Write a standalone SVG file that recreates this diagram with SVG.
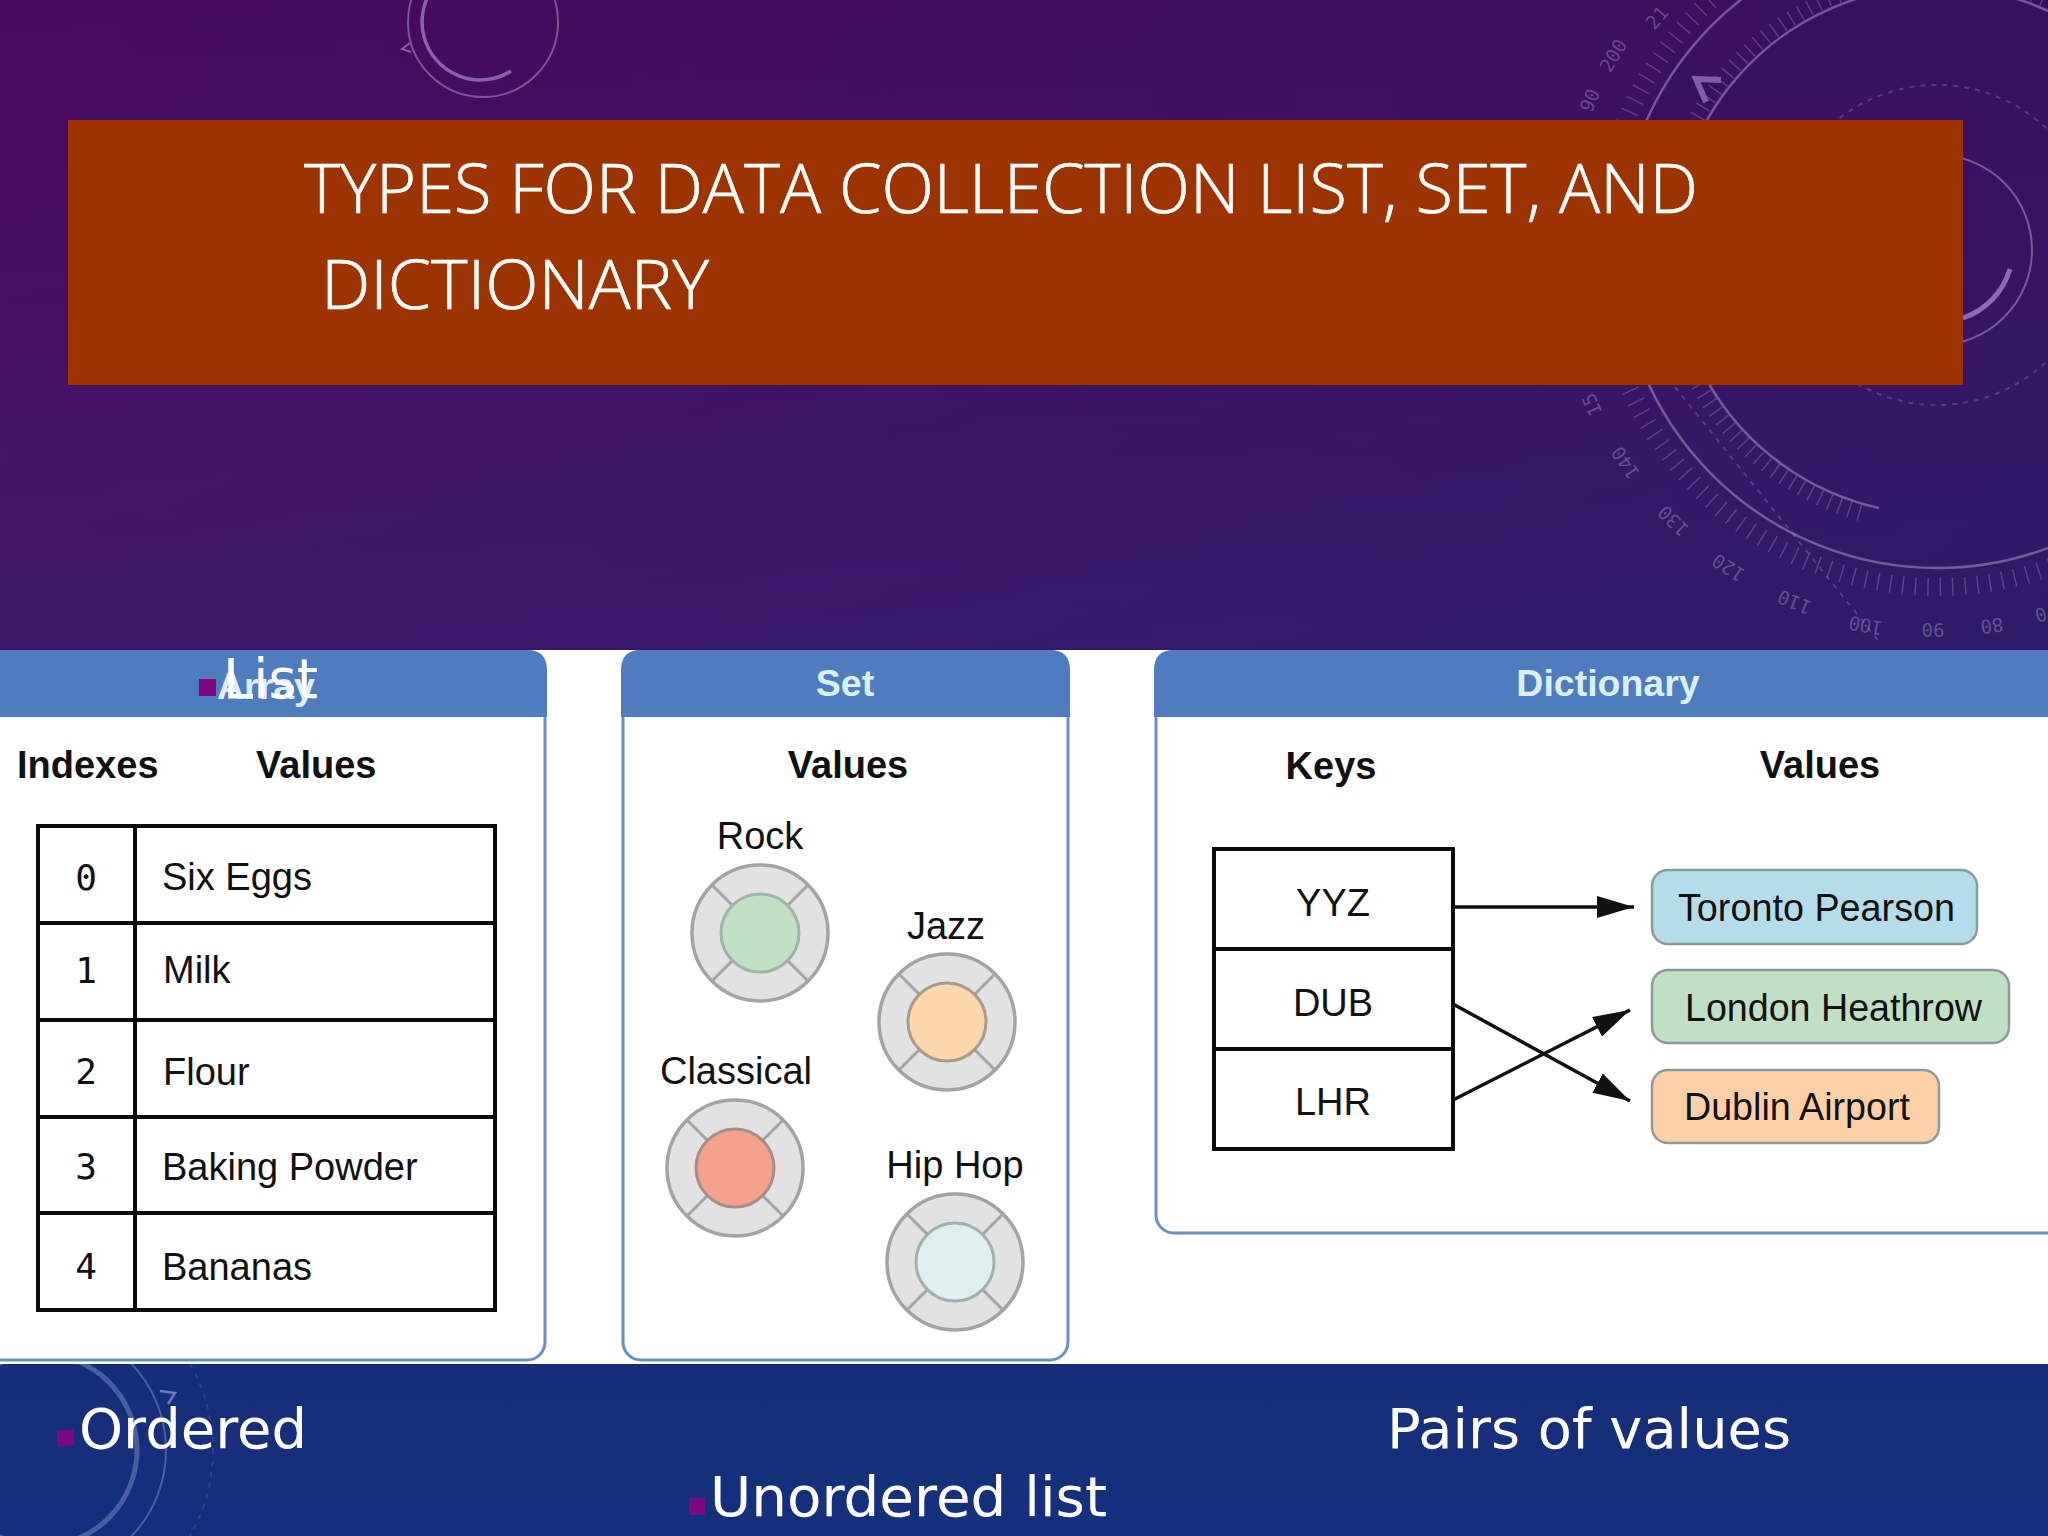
<svg xmlns="http://www.w3.org/2000/svg" width="2048" height="1536" viewBox="0 0 2048 1536">
<defs>
<linearGradient id="bgV" x1="0" y1="0" x2="0" y2="1"><stop offset="0" stop-color="#450a5a"/><stop offset="0.14" stop-color="#470e62"/><stop offset="0.42" stop-color="#3a1a6c"/><stop offset="0.87" stop-color="#172e79"/><stop offset="1" stop-color="#14307c"/></linearGradient>
<linearGradient id="bgH" x1="0" y1="0" x2="1" y2="0"><stop offset="0" stop-color="#4a0f66" stop-opacity="0.25"/><stop offset="1" stop-color="#141f68" stop-opacity="0.3"/></linearGradient>
<marker id="head" markerUnits="userSpaceOnUse" markerWidth="38" markerHeight="22" viewBox="0 0 38 22" refX="37" refY="11" orient="auto"><path d="M0 0 L37 11 L0 22 Z" fill="#111"/></marker>
<g id="dial"><circle cx="0" cy="0" r="68" fill="#e2e2e2" stroke="#a3a3a3" stroke-width="3.5"/><path d="M-47 -47 L-27 -27 M47 -47 L27 -27 M-47 47 L-27 27 M47 47 L27 27" stroke="#a3a3a3" stroke-width="3" fill="none"/></g>
</defs>
<style>
.sans{font-family:"Liberation Sans",Arial,sans-serif;fill:#111}
.b{font-weight:700;font-size:38px}
.r{font-size:38px}
.c{text-anchor:middle}
.h{font-weight:700;font-size:37.5px;fill:#dcf0fa;text-anchor:middle}
.m{font-family:"DejaVu Sans Mono",monospace;font-size:36px;fill:#111;text-anchor:middle}
.w{font-family:"DejaVu Sans",Verdana,sans-serif;font-size:56px;fill:#fff}
.t{font-family:"Open Sans",sans-serif;font-weight:300;font-size:69px;fill:#fff;stroke:#fff;stroke-width:.7}
.pn{fill:#fff;stroke:#6a90bf;stroke-width:3}
.hd{fill:#4e7cbf}
.cell{fill:#fff;stroke:#0a0a0a;stroke-width:4}
.ln{stroke:#0a0a0a;stroke-width:4;fill:none}
.d1{fill:none;stroke:#b59fd0;stroke-width:2.5;stroke-opacity:.5}
.d2{fill:none;stroke:#c3b2da;stroke-width:1.8;stroke-opacity:.28}
.d3{fill:none;stroke:#b59fd0;stroke-width:2;stroke-opacity:.28;stroke-dasharray:5 6}
.n{font-family:"DejaVu Sans Mono",monospace;font-size:19px;fill:#b6a8d4;fill-opacity:.4;text-anchor:middle}
.bl{fill:#7a0a7e}
.arr{stroke:#111;stroke-width:3.5;fill:none;marker-end:url(#head)}
.vb{stroke:#8d9a9a;stroke-width:2.5}
</style>
<rect width="2048" height="1536" fill="url(#bgV)"/>
<rect width="2048" height="650" fill="url(#bgH)"/>
<g id="decor">
<circle class="d1" cx="1937" cy="250" r="318"/>
<circle class="d2" cx="1937" cy="250" r="337" style="stroke-width:18;stroke-dasharray:1.5 11"/>
<path class="d1" d="M1879 508 A264 264 0 1 1 2048 11"/>
<path class="d2" style="stroke-width:16;stroke-dasharray:1.5 9" d="M1860 513 A274 274 0 0 1 1680 345 M1680 155 A274 274 0 0 1 2048 0"/>
<circle class="d3" cx="1937" cy="245" r="160"/>
<path class="d3" d="M1675 387 L1881 644"/>
<circle class="d1" cx="1937" cy="250" r="95" style="stroke-width:2"/>
<path d="M2010 269 A74 74 0 0 1 1963 318" fill="none" stroke="#8b6cb0" stroke-width="5"/>
<polyline points="1721,80 1696,79 1706,102" fill="none" stroke="#7f5fa6" stroke-width="6"/>
<text class="n" transform="translate(1662,22) rotate(-49)">21</text>
<text class="n" transform="translate(1619,59) rotate(-59)">200</text>
<text class="n" transform="translate(1596,103) rotate(-67)">90</text>
<text class="n" transform="translate(1598,402) rotate(246)">15</text>
<text class="n" transform="translate(1631,459) rotate(236)">140</text>
<text class="n" transform="translate(1678,516) rotate(224)">130</text>
<text class="n" transform="translate(1732,562) rotate(213)">120</text>
<text class="n" transform="translate(1797,596) rotate(202)">110</text>
<text class="n" transform="translate(1867,619) rotate(191)">100</text>
<text class="n" transform="translate(1933,623) rotate(180)">90</text>
<text class="n" transform="translate(1991,619) rotate(172)">80</text>
<text class="n" transform="translate(2039,608) rotate(164)">0</text>
<circle class="d1" cx="483" cy="22" r="75" style="stroke-width:2"/>
<path d="M483 -36 A58 58 0 1 0 511 71" fill="none" stroke="#8a62a8" stroke-width="3.5"/>
<path d="M410 43 L402 49 L411 52" fill="none" stroke="#8a62a8" stroke-width="2"/>
<circle cx="41" cy="1450" r="96" fill="none" stroke="#6a7fb8" stroke-width="5" stroke-opacity=".6"/>
<circle cx="41" cy="1450" r="125" fill="none" stroke="#7f91c2" stroke-width="2" stroke-opacity=".5"/>
<circle cx="41" cy="1450" r="172" fill="none" stroke="#7f91c2" stroke-width="1.5" stroke-opacity=".25" stroke-dasharray="5 6"/>
<path d="M160 1391 L175 1393 L168 1404" fill="none" stroke="#6a7fb8" stroke-width="2.5"/>
</g>
<rect id="whiteband" x="0" y="650" width="2048" height="714" fill="#fff"/>
<g id="title">
<rect x="68" y="120" width="1895" height="265" fill="#9c3300"/>
<text class="t" x="304" y="213" textLength="1394" lengthAdjust="spacingAndGlyphs">TYPES FOR DATA COLLECTION LIST, SET, AND</text>
<text class="t" x="321" y="309" textLength="388" lengthAdjust="spacingAndGlyphs">DICTIONARY</text>
</g>
<g id="array-panel">
<rect class="pn" x="-30" y="652" width="575" height="708" rx="18"/>
<path class="hd" d="M-30 650 H527 Q547 650 547 670 V717 H-30 Z"/>
<text class="sans h" x="266" y="699">Array</text>
<text class="sans b" x="17" y="778">Indexes</text>
<text class="sans b" x="256" y="778">Values</text>
<rect class="cell" x="38" y="826" width="457" height="484"/>
<path class="ln" d="M135 826 V1310 M38 923 H495 M38 1020 H495 M38 1117 H495 M38 1213 H495"/>
<text class="m" x="86" y="890">0</text><text class="m" x="86" y="983">1</text><text class="m" x="86" y="1084">2</text><text class="m" x="86" y="1179">3</text><text class="m" x="86" y="1279">4</text>
<text class="sans r" x="162" y="890">Six Eggs</text>
<text class="sans r" x="163" y="983">Milk</text>
<text class="sans r" x="163" y="1085">Flour</text>
<text class="sans r" x="162" y="1180">Baking Powder</text>
<text class="sans r" x="162" y="1280">Bananas</text>
</g>
<g id="set-panel">
<rect class="pn" x="623" y="652" width="445" height="708" rx="18"/>
<path class="hd" d="M621 717 V670 Q621 650 641 650 H1050 Q1070 650 1070 670 V717 Z"/>
<text class="sans h" x="845" y="696">Set</text>
<text class="sans b c" x="848" y="778">Values</text>
</g>
<g id="rock"><text class="sans r c" x="760" y="849">Rock</text><use href="#dial" x="760" y="933"/><circle cx="760" cy="933" r="39" fill="#bfe0c2" stroke="#9db5a5" stroke-width="3"/></g>
<g id="jazz"><text class="sans r c" x="946" y="939">Jazz</text><use href="#dial" x="947" y="1022"/><circle cx="947" cy="1022" r="39" fill="#fcd7ab" stroke="#a89a87" stroke-width="3"/></g>
<g id="classical"><text class="sans r c" x="736" y="1084">Classical</text><use href="#dial" x="735" y="1168"/><circle cx="735" cy="1168" r="39" fill="#f4a18d" stroke="#a88d85" stroke-width="3"/></g>
<g id="hiphop"><text class="sans r c" x="955" y="1178">Hip Hop</text><use href="#dial" x="955" y="1262"/><circle cx="955" cy="1262" r="39" fill="#dfeeee" stroke="#9eb0b0" stroke-width="3"/></g>
<g id="dictionary-panel">
<rect class="pn" x="1156" y="652" width="1000" height="581" rx="18"/>
<path class="hd" d="M1154 717 V670 Q1154 650 1174 650 H2048 V717 Z"/>
<text class="sans h" x="1608" y="696">Dictionary</text>
<text class="sans b c" x="1331" y="779">Keys</text>
<text class="sans b c" x="1820" y="778">Values</text>
</g>
<g id="keys">
<rect class="cell" x="1214" y="849" width="239" height="300"/>
<path class="ln" d="M1214 949 H1453 M1214 1049 H1453"/>
<text class="sans r c" x="1333" y="916">YYZ</text>
<text class="sans r c" x="1333" y="1016">DUB</text>
<text class="sans r c" x="1333" y="1115">LHR</text>
</g>
<g id="toronto"><rect class="vb" x="1652" y="870" width="325" height="74" rx="16" fill="#b4dcea"/><text class="sans r" x="1678" y="921" textLength="277" lengthAdjust="spacingAndGlyphs">Toronto Pearson</text></g>
<g id="london"><rect class="vb" x="1652" y="970" width="357" height="73" rx="16" fill="#bfe0c2"/><text class="sans r" x="1685" y="1021" textLength="297" lengthAdjust="spacingAndGlyphs">London Heathrow</text></g>
<g id="dublin"><rect class="vb" x="1652" y="1070" width="287" height="73" rx="16" fill="#fcd0a6"/><text class="sans r" x="1684" y="1120" textLength="226" lengthAdjust="spacingAndGlyphs">Dublin Airport</text></g>
<g id="connectors">
<path class="arr" d="M1453 1004 L1630 1101"/>
<path class="arr" d="M1453 1100 L1630 1010"/>
<path class="arr" d="M1453 907 H1634"/>
</g>
<g id="list-label"><rect class="bl" x="199" y="679" width="17" height="17"/><text class="w" x="223" y="698" textLength="95" lengthAdjust="spacingAndGlyphs">List</text></g>
<g id="ordered-label"><rect class="bl" x="57" y="1430" width="17" height="16"/><text class="w" x="79" y="1448" textLength="228" lengthAdjust="spacingAndGlyphs">Ordered</text></g>
<g id="unordered-label"><rect class="bl" x="689" y="1498" width="16" height="17"/><text class="w" x="710" y="1516" textLength="397" lengthAdjust="spacingAndGlyphs">Unordered list</text></g>
<g id="pairs-label"><text class="w" x="1387" y="1448" textLength="404" lengthAdjust="spacingAndGlyphs">Pairs of values</text></g>
</svg>
